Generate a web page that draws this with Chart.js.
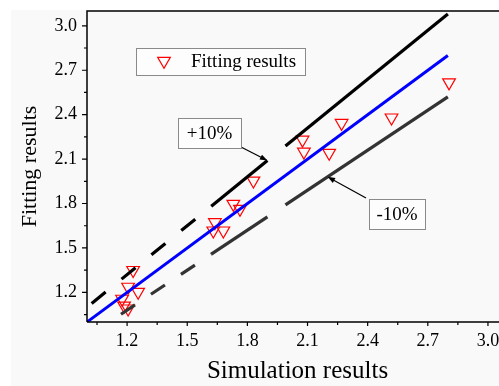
<!DOCTYPE html>
<html>
<head>
<meta charset="utf-8">
<script src="https://cdn.jsdelivr.net/npm/chart.js@4.4.0/dist/chart.umd.min.js"></script>
<style>
  html, body { margin: 0; padding: 0; background: #fff; overflow: hidden; width: 499px; height: 386px; }
  #wrap { position: absolute; left: 11px; top: 10px; width: 509px; height: 376px; background: #f9f9f9; }
</style>
</head>
<body>
<div id="wrap"><canvas id="chart"></canvas></div>
<script>
// Scatter data
const simulationResults = [1.175, 1.185, 1.205, 1.205, 1.255, 1.23, 1.63, 1.638, 1.68, 1.73, 1.763, 1.83, 2.075, 2.082, 2.208, 2.27, 2.519, 2.806];
const fittingResults = [1.156, 1.11, 1.09, 1.237, 1.203, 1.35, 1.617, 1.673, 1.617, 1.797, 1.763, 1.954, 2.23, 2.149, 2.141, 2.343, 2.38, 2.617];

// Reference lines (y = x, +10%, -10%)
const idealX = [1.0, 2.8];
const idealY = [1.0, 2.8];
const boundX = [1.0, 1.62, 1.9, 1.99, 2.8];
const plusTenY = [1.1, 1.782, 2.09, 2.189, 3.08];
const minusTenY = [0.9, 1.458, 1.71, 1.791, 2.52];

// Axis ticks
const majorTicks = [1.2, 1.5, 1.8, 2.1, 2.4, 2.7, 3.0];
const minorTicks = [1.05, 1.35, 1.65, 1.95, 2.25, 2.55, 2.85];
const tickLabels = ["1.2", "1.5", "1.8", "2.1", "2.4", "2.7", "3.0"];

const FONT = "'Liberation Serif', 'Times New Roman', serif";

function points(xs, ys) {
  return xs.map((x, i) => ({ x: x, y: ys[i] }));
}

// dashed first run, gap in the third run, solid elsewhere
function boundSegment(dash, offset) {
  return {
    borderDash: (c) => (c.p0DataIndex === 0 ? dash : []),
    borderDashOffset: (c) => (c.p0DataIndex === 0 ? offset : 0),
    borderColor: (c) => (c.p0DataIndex === 2 ? "rgba(0,0,0,0)" : undefined),
  };
}

function arrow(ctx, x0, y0, x1, y1) {
  const a = Math.atan2(y1 - y0, x1 - x0);
  ctx.beginPath();
  ctx.moveTo(x0, y0);
  ctx.lineTo(x1 - Math.cos(a) * 5, y1 - Math.sin(a) * 5);
  ctx.stroke();
  ctx.beginPath();
  ctx.moveTo(x1, y1);
  ctx.lineTo(x1 - 8 * Math.cos(a - 0.35), y1 - 8 * Math.sin(a - 0.35));
  ctx.lineTo(x1 - 8 * Math.cos(a + 0.35), y1 - 8 * Math.sin(a + 0.35));
  ctx.closePath();
  ctx.fill();
}

function textBox(ctx, x, y, w, h, text) {
  ctx.fillStyle = "#fdfdfd";
  ctx.fillRect(x, y, w, h);
  ctx.strokeStyle = "#8a8a8a";
  ctx.lineWidth = 1;
  ctx.strokeRect(x + 0.5, y + 0.5, w, h);
  ctx.fillStyle = "#000";
  ctx.font = "19px " + FONT;
  ctx.textAlign = "center";
  ctx.textBaseline = "middle";
  ctx.fillText(text, x + w / 2, y + h / 2 + 1);
}

const frame = {
  id: "frame",
  afterDatasetsDraw(chart) {
    const { ctx, chartArea: a, scales } = chart;
    const sx = scales.x, sy = scales.y;
    ctx.save();
    ctx.strokeStyle = "#000";
    ctx.lineWidth = 1.5;
    ctx.beginPath();
    ctx.moveTo(a.left, a.bottom);
    ctx.lineTo(a.left, a.top);
    ctx.lineTo(a.right, a.top);
    ctx.moveTo(a.left, a.bottom);
    ctx.lineTo(a.right, a.bottom);
    ctx.stroke();

    ctx.lineWidth = 1.2;
    ctx.beginPath();
    majorTicks.forEach((v) => {
      const px = sx.getPixelForValue(v);
      ctx.moveTo(px, a.bottom);
      ctx.lineTo(px, a.bottom + 4);
      const py = sy.getPixelForValue(v);
      ctx.moveTo(a.left, py);
      ctx.lineTo(a.left - 5, py);
    });
    minorTicks.forEach((v) => {
      const px = sx.getPixelForValue(v);
      ctx.moveTo(px, a.bottom);
      ctx.lineTo(px, a.bottom + 3);
      const py = sy.getPixelForValue(v);
      ctx.moveTo(a.left, py);
      ctx.lineTo(a.left - 3, py);
    });
    ctx.stroke();

    // legend box
    textBox(ctx, 125, 38, 169, 27, "");
    ctx.strokeStyle = "#ff0000";
    ctx.lineWidth = 1.2;
    const r = 7.3, cx = 153, cy = 51;
    ctx.beginPath();
    ctx.moveTo(cx, cy + r);
    ctx.lineTo(cx - r * 0.866, cy - r / 2);
    ctx.lineTo(cx + r * 0.866, cy - r / 2);
    ctx.closePath();
    ctx.stroke();
    ctx.fillStyle = "#000";
    ctx.font = "19px " + FONT;
    ctx.textAlign = "left";
    ctx.textBaseline = "middle";
    ctx.fillText("Fitting results", 180, 52);

    // +10% / -10% labels with arrows
    ctx.strokeStyle = "#000";
    ctx.fillStyle = "#000";
    ctx.lineWidth = 1.2;
    arrow(ctx, 230, 137, sx.getPixelForValue(1.9), sy.getPixelForValue(2.09));
    arrow(ctx, 355, 188, sx.getPixelForValue(2.2), sy.getPixelForValue(1.98));
    textBox(ctx, 167, 108, 63, 30, "+10%");
    textBox(ctx, 358, 189, 56, 30, "-10%");
    ctx.restore();
  },
};

new Chart(document.getElementById("chart"), {
  type: "scatter",
  data: {
    datasets: [
      {
        label: "+10%",
        data: points(boundX, plusTenY),
        showLine: true,
        borderColor: "#000",
        borderWidth: 3.2,
        pointRadius: 0,
        segment: boundSegment([18, 20.5], 32.5),
      },
      {
        label: "-10%",
        data: points(boundX, minusTenY),
        showLine: true,
        borderColor: "#333",
        borderWidth: 3.2,
        pointRadius: 0,
        segment: boundSegment([16.8, 19.2], 31.2),
      },
      {
        label: "y = x",
        data: points(idealX, idealY),
        showLine: true,
        borderColor: "#0000ff",
        borderWidth: 3,
        pointRadius: 0,
      },
      {
        label: "Fitting results",
        data: points(simulationResults, fittingResults),
        pointStyle: "triangle",
        rotation: 180,
        pointRadius: 7.3,
        pointBorderWidth: 1.2,
        borderColor: "#ff0000",
        backgroundColor: "rgba(0,0,0,0)",
      },
    ],
  },
  options: {
    responsive: true,
    maintainAspectRatio: false,
    animation: false,
    layout: { autoPadding: false, padding: { top: 1, right: 12, left: 0, bottom: 0 } },
    plugins: { legend: { display: false }, tooltip: { enabled: false } },
    scales: {
      x: {
        type: "linear",
        min: 1.0,
        max: 3.1,
        grid: { display: false, drawTicks: false },
        border: { display: false },
        afterBuildTicks: (s) => { s.ticks = majorTicks.map((v) => ({ value: v })); },
        afterFit: (s) => {
          s.height = 64;
          s.paddingLeft = 0;
          s.paddingRight = 0;
        },
        ticks: {
          padding: 8,
          color: "#000",
          font: { family: FONT, size: 18 },
          callback: (v, i) => tickLabels[i],
        },
        title: {
          display: true,
          text: "Simulation results",
          color: "#000",
          font: { family: FONT, size: 25 },
          padding: { top: 0, bottom: 0 },
        },
      },
      y: {
        type: "linear",
        min: 1.0,
        max: 3.1,
        grid: { display: false, drawTicks: false },
        border: { display: false },
        afterBuildTicks: (s) => { s.ticks = majorTicks.map((v) => ({ value: v })); },
        afterFit: (s) => {
          s.width = 76;
          s.paddingTop = 0;
          s.paddingBottom = 0;
        },
        ticks: {
          padding: 10,
          color: "#000",
          font: { family: FONT, size: 18 },
          callback: (v, i) => tickLabels[i],
        },
        title: {
          display: true,
          text: "Fitting results",
          color: "#000",
          font: { family: FONT, size: 22 },
          padding: { top: 6, bottom: 0 },
        },
      },
    },
  },
  plugins: [frame],
});
</script>
</body>
</html>
